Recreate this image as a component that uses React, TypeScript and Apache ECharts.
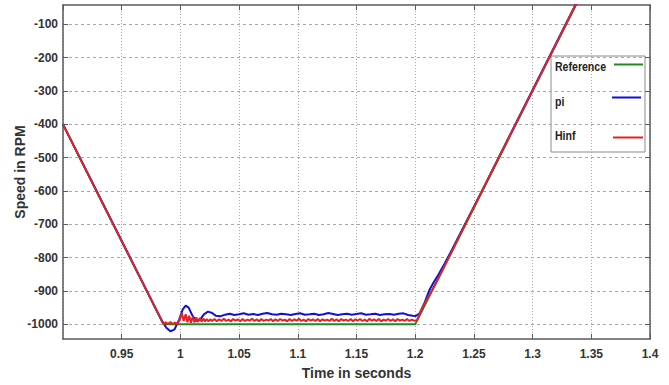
import React, { useEffect, useRef } from "react";
import * as echarts from "echarts";

const xTicks = [0.95, 1, 1.05, 1.1, 1.15, 1.2, 1.25, 1.3, 1.35, 1.4];
const yTicks = [-1000, -900, -800, -700, -600, -500, -400, -300, -200, -100];

const referenceData: [number, number][] = [
  [0.9, -400], [0.9857, -1000], [1.2, -1000], [1.345, 15],
];

const piData: [number, number][] = [
  [0.9, -400], [0.984, -988], [0.988, -1010], [0.9915, -1021], [0.995, -1015], [0.999, -985],
  [1.002, -955], [1.0045, -944], [1.007, -950], [1.01, -972], [1.0135, -990], [1.017, -985],
  [1.02, -970], [1.0235, -962], [1.027, -966], [1.03, -974], [1.034, -976], [1.038, -971],
  [1.042, -968], [1.046, -972], [1.05, -970], [1.054, -967], [1.058, -971], [1.062, -969],
  [1.066, -972], [1.07, -968], [1.074, -966], [1.078, -970], [1.082, -971], [1.086, -968],
  [1.09, -970], [1.094, -972], [1.098, -969], [1.102, -967], [1.106, -971], [1.11, -970],
  [1.114, -968], [1.118, -972], [1.122, -970], [1.126, -966], [1.13, -969], [1.134, -972],
  [1.138, -970], [1.142, -968], [1.146, -971], [1.15, -969], [1.154, -967], [1.158, -971],
  [1.162, -970], [1.166, -968], [1.17, -972], [1.174, -970], [1.178, -969], [1.182, -971],
  [1.186, -968], [1.19, -967], [1.194, -972], [1.198, -974], [1.2005, -975], [1.204, -966],
  [1.208, -935], [1.212, -898], [1.216, -872], [1.22, -850], [1.225, -818], [1.23, -785],
  [1.26, -578], [1.3, -297], [1.345, 18],
];

const hinfData: [number, number][] = [
  [0.9, -400], [0.9857, -1000], [0.9875, -994], [0.9895, -999], [0.9915, -993], [0.9935, -999],
  [0.9955, -995], [0.9975, -1000], [0.9995, -985], [1.0012, -966], [1.0028, -990], [1.0045, -970],
  [1.006, -994], [1.0075, -974], [1.009, -995], [1.0105, -977], [1.012, -994], [1.0135, -979],
  [1.015, -993], [1.0165, -981], [1.018, -992], [1.0195, -983], [1.021, -991], [1.0225, -984],
  [1.024, -991], [1.0255, -985], [1.027, -990], [1.029, -984], [1.031, -991], [1.033, -985],
  [1.035, -990], [1.037, -983], [1.039, -990], [1.041, -986], [1.043, -991], [1.045, -984],
  [1.047, -989], [1.049, -985], [1.051, -991], [1.053, -984], [1.055, -990], [1.057, -986],
  [1.059, -989], [1.061, -983], [1.063, -990], [1.065, -985], [1.067, -991], [1.069, -984],
  [1.071, -990], [1.073, -986], [1.075, -989], [1.077, -984], [1.079, -991], [1.081, -985],
  [1.083, -990], [1.085, -984], [1.087, -989], [1.089, -986], [1.091, -991], [1.093, -984],
  [1.095, -990], [1.097, -985], [1.099, -989], [1.101, -983], [1.103, -990], [1.105, -986],
  [1.107, -991], [1.109, -984], [1.111, -989], [1.113, -985], [1.115, -990], [1.117, -984],
  [1.119, -991], [1.121, -985], [1.123, -989], [1.125, -986], [1.127, -990], [1.129, -983],
  [1.131, -990], [1.133, -985], [1.135, -991], [1.137, -984], [1.139, -989], [1.141, -986],
  [1.143, -990], [1.145, -984], [1.147, -991], [1.149, -985], [1.151, -989], [1.153, -984],
  [1.155, -990], [1.157, -986], [1.159, -991], [1.161, -983], [1.163, -989], [1.165, -985],
  [1.167, -990], [1.169, -984], [1.171, -991], [1.173, -986], [1.175, -989], [1.177, -984],
  [1.179, -990], [1.181, -985], [1.183, -991], [1.185, -984], [1.187, -989], [1.189, -986],
  [1.191, -990], [1.193, -984], [1.195, -990], [1.197, -986], [1.199, -989], [1.2015, -988],
  [1.205, -958], [1.21, -925], [1.215, -893], [1.22, -860], [1.23, -790], [1.26, -578],
  [1.3, -298], [1.345, 17],
];

const seriesNames = ["Reference", "pi", "Hinf"];
const seriesColors = ["#1f8a1f", "#1010d8", "#e02424"];

const FONT = "'Liberation Sans', Arial, sans-serif";
const AXIS_COLOR = "#5a5a5a";

export default function App() {
  const ref = useRef<HTMLDivElement>(null);

  useEffect(() => {
    if (!ref.current) return;
    const chart = echarts.init(ref.current, null, { renderer: "svg" });
    const fmtX = (v: number) => String(parseFloat(v.toFixed(2)));
    const fmtY = (v: number) => String(Math.round(v));
    const commonX = {
      type: "value" as const,
      min: 0.9,
      max: 1.4,
      interval: 0.05,
    };
    const commonY = {
      type: "value" as const,
      min: -1044,
      max: -42,
    };
    const legendItems: any[] = [
      {
        type: "rect",
        shape: { x: 551, y: 56, width: 94, height: 96 },
        style: { fill: "none", stroke: "#8a8a8a", lineWidth: 1 },
        silent: true,
      },
    ];
    const legendTextY = [67, 102, 136];
    const legendLineY = [64.5, 97.5, 137.5];
    const legendLineX = [[614, 643], [612, 641], [613, 643]];
    seriesNames.forEach((name, i) => {
      legendItems.push({
        type: "text",
        x: 555,
        y: legendTextY[i],
        scaleX: 0.88,
        style: {
          text: name,
          font: `bold 12px ${FONT}`,
          fill: "#222",
          verticalAlign: "middle",
          align: "left",
        },
        silent: true,
      });
      legendItems.push({
        type: "line",
        shape: { x1: legendLineX[i][0], y1: legendLineY[i], x2: legendLineX[i][1], y2: legendLineY[i] },
        style: { stroke: seriesColors[i], lineWidth: 2 },
        silent: true,
      });
    });

    chart.setOption({
      animation: false,
      backgroundColor: "#ffffff",
      grid: { left: 63, top: 5, right: 19, bottom: 46, containLabel: false, outerBoundsMode: "none" },
      xAxis: [
        {
          ...commonX,
          position: "bottom",
          name: "Time in seconds",
          nameLocation: "middle",
          nameGap: 27,
          nameMoveOverlap: false,
          nameTextStyle: { fontFamily: FONT, fontWeight: "bold", fontSize: 14, color: "#333" },
          axisLine: { show: true, onZero: false, lineStyle: { color: AXIS_COLOR, width: 1.5 } },
          axisTick: { show: true, inside: true, length: 5, lineStyle: { color: AXIS_COLOR } },
          axisLabel: {
            showMinLabel: false,
            margin: 9,
            fontFamily: FONT,
            fontWeight: "bold",
            fontSize: 12,
            color: "#333",
            formatter: fmtX,
          },
          splitLine: { show: true, lineStyle: { color: "#a8a8a8", type: [1, 2], width: 1 } },
        },
        {
          ...commonX,
          position: "top",
          axisLine: { show: true, onZero: false, lineStyle: { color: AXIS_COLOR, width: 1.5 } },
          axisTick: { show: true, inside: true, length: 5, lineStyle: { color: AXIS_COLOR } },
          axisLabel: { show: false },
          splitLine: { show: false },
        },
      ],
      yAxis: [
        {
          ...commonY,
          position: "left",
          name: "Speed in RPM",
          nameLocation: "middle",
          nameGap: 36,
          nameRotate: 90,
          nameMoveOverlap: false,
          nameTextStyle: { fontFamily: FONT, fontWeight: "bold", fontSize: 14, color: "#333" },
          axisLine: { show: true, onZero: false, lineStyle: { color: AXIS_COLOR, width: 1.5 } },
          axisTick: { show: true, inside: true, length: 5, customValues: yTicks, lineStyle: { color: AXIS_COLOR } },
          axisLabel: {
            customValues: yTicks,
            margin: 5,
            fontFamily: FONT,
            fontWeight: "bold",
            fontSize: 12,
            color: "#333",
            formatter: fmtY,
          },
          splitLine: { show: true, lineStyle: { color: "#a8a8a8", type: [3, 3], width: 1 } },
        },
        {
          ...commonY,
          position: "right",
          axisLine: { show: true, onZero: false, lineStyle: { color: AXIS_COLOR, width: 1.5 } },
          axisTick: { show: true, inside: true, length: 5, customValues: yTicks, lineStyle: { color: AXIS_COLOR } },
          axisLabel: { show: false, customValues: yTicks },
          splitLine: { show: false },
        },
      ],
      series: [referenceData, piData, hinfData].map((data, i) => ({
        name: seriesNames[i],
        type: "line",
        data,
        xAxisIndex: 0,
        yAxisIndex: 0,
        symbol: "none",
        clip: true,
        lineStyle: { color: seriesColors[i], width: 2 },
        itemStyle: { color: seriesColors[i] },
      })),
      graphic: legendItems,
    });
    return () => chart.dispose();
  }, []);

  return (
    <div
      ref={ref}
      style={{ position: "fixed", left: 0, top: 0, width: 669, height: 385, background: "#fff" }}
    />
  );
}
